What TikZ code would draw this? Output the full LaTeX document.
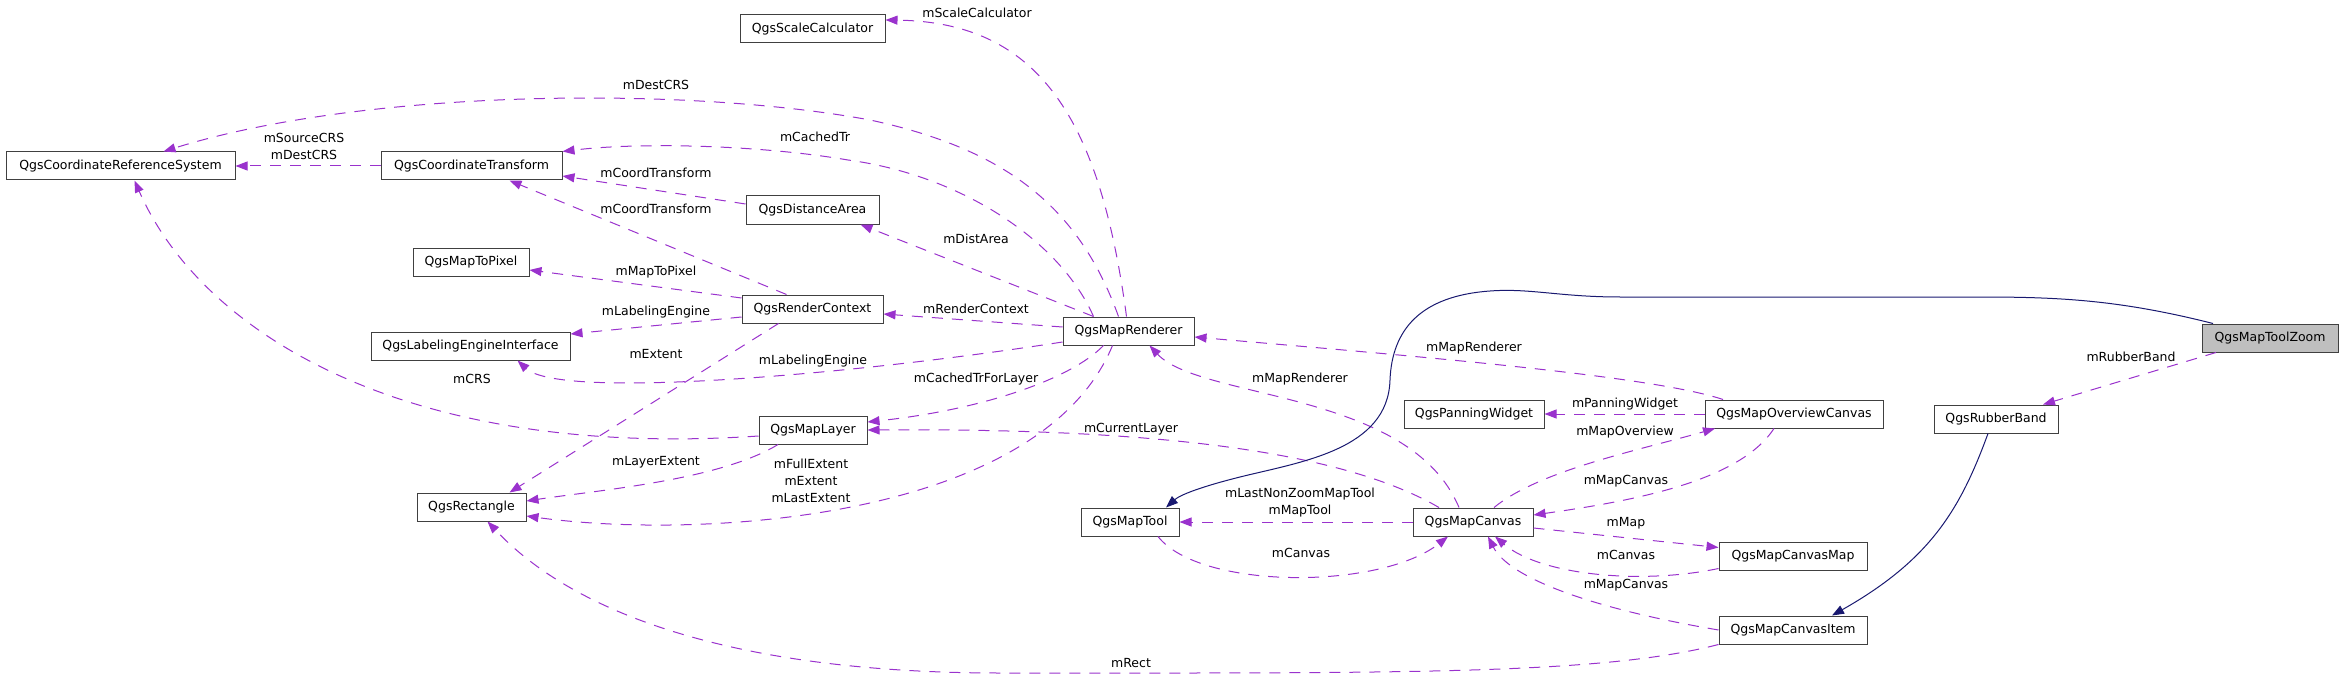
\documentclass[tikz,border=0pt]{standalone}
\usepackage{fontspec}
\setmainfont{DejaVu Sans}
\usepackage{xcolor}
\usepackage{tikz}
\usetikzlibrary{positioning,arrows.meta,calc}
\definecolor{member}{HTML}{9A32CD}
\definecolor{inherit}{HTML}{191970}
\definecolor{frame}{HTML}{404040}

\begin{document}
\begin{tikzpicture}[x=1pt,y=-1pt,font=\fontsize{12.5}{17}\selectfont,
  cls/.style={draw=frame,line width=1pt,fill=white,inner sep=0pt,minimum height=28pt},
  lbl/.style={inner sep=0pt,align=center},
  use/.style={draw=member,line width=1pt,dash pattern=on 11pt off 9pt,-{Triangle[length=12pt,width=9pt]}},
  isa/.style={draw=inherit,line width=1pt,-{Triangle[length=12pt,width=9pt]}}]
  \useasboundingbox (0,0) rectangle (2344,679);
  % classes
  \node[cls,minimum width=229pt] (crs) at (120.5,166) {QgsCoordinateReferenceSystem};
  \node[cls,minimum width=181pt] (ct) at (471.5,166) {QgsCoordinateTransform};
  \node[cls,minimum width=116pt] (m2p) at (471,262) {QgsMapToPixel};
  \node[cls,minimum width=199pt] (lei) at (470.5,346) {QgsLabelingEngineInterface};
  \node[cls,minimum width=109pt] (rect) at (471.5,507) {QgsRectangle};
  \node[cls,minimum width=145pt] (sc) at (812.5,29) {QgsScaleCalculator};
  \node[cls,minimum width=133pt] (da) at (812.5,210) {QgsDistanceArea};
  \node[cls,minimum width=141pt] (rc) at (812.5,309) {QgsRenderContext};
  \node[cls,minimum width=108pt] (ml) at (813,430) {QgsMapLayer};
  \node[cls,minimum width=131pt] (mr) at (1128.5,331) {QgsMapRenderer};
  \node[cls,minimum width=98pt] (mt) at (1130,522) {QgsMapTool};
  \node[cls,minimum width=140pt] (pw) at (1474,414) {QgsPanningWidget};
  \node[cls,minimum width=120pt] (mc) at (1473,522) {QgsMapCanvas};
  \node[cls,minimum width=178pt] (moc) at (1794,414) {QgsMapOverviewCanvas};
  \node[cls,minimum width=148pt] (mcm) at (1793,556.5) {QgsMapCanvasMap};
  \node[cls,minimum width=148pt] (mci) at (1793,630) {QgsMapCanvasItem};
  \node[cls,minimum width=124pt] (rb) at (1996,419) {QgsRubberBand};
  \node[cls,minimum width=136pt,fill=black!25] (mtz) at (2270,338) {QgsMapToolZoom};
  % members
  \begin{scope}[use]
    \draw (ct.west) -- (crs.east);
    \draw ($(mr.north)+(-2,0)$) .. controls (1100,120) and (1040,22) .. ($(sc.east)+(0,-9)$);
    \draw ($(mr.north)+(-10,0)$) .. controls (1080,210) and (1010,150) .. (870,120)
      .. controls (680,85) and (360,90) .. ($(crs.north)+(43,0)$);
    \draw ($(mr.north)+(-35,0)$) .. controls (1060,240) and (960,175) .. (848,160)
      .. controls (760,145) and (640,142) .. (ct.north east);
    \draw ($(da.west)+(0,-6)$) -- ($(ct.east)+(0,10)$);
    \draw ($(rc.north)+(-26,0)$) -- ($(ct.south)+(38,0)$);
    \draw ($(mr.north)+(-35,0)$) -- ($(da.south)+(48,0)$);
    \draw ($(rc.west)+(0,-11)$) -- ($(m2p.east)+(0,8)$);
    \draw ($(rc.west)+(0,8)$) -- ($(lei.east)+(0,-12)$);
    \draw ($(mr.west)+(0,-4)$) -- ($(rc.east)+(0,5)$);
    \draw ($(mr.west)+(0,11)$) .. controls (850,375) and (560,400) .. ($(lei.south)+(47,0)$);
    \draw ($(ml.west)+(0,6)$) .. controls (400,460) and (200,330) .. ($(crs.south)+(14,0)$);
    \draw ($(rc.south)+(-34,0)$) -- ($(rect.north)+(38,0)$);
    \draw ($(ml.south)+(-35,0)$) .. controls (720,480) and (600,490) .. ($(rect.east)+(0,-6)$);
    \draw ($(mr.south)+(-16,0)$) .. controls (1040,520) and (700,540) .. ($(rect.east)+(0,9)$);
    \draw ($(mr.south)+(-25,0)$) .. controls (1070,380) and (980,410) .. ($(ml.east)+(0,-8)$);
    \draw ($(mc.north)+(-34,0)$) .. controls (1340,450) and (1150,428) .. (ml.east);
    \draw ($(mc.north)+(-14,0)$) .. controls (1410,390) and (1200,400) .. ($(mr.south)+(21,0)$);
    \draw ($(moc.north)+(-71,0)$) .. controls (1650,375) and (1400,355) .. ($(mr.east)+(0,6)$);
    \draw (moc.west) -- (pw.east);
    \draw ($(mc.north)+(21,0)$) .. controls (1540,470) and (1640,450) .. ($(moc.south)+(-79,0)$);
    \draw ($(moc.south)+(-20,0)$) .. controls (1740,480) and (1640,500) .. ($(mc.east)+(0,-7)$);
    \draw (mc.west) -- (mt.east);
    \draw ($(mt.south)+(28,0)$) .. controls (1200,590) and (1380,590) .. ($(mc.south)+(-25,0)$);
    \draw ($(mc.east)+(0,6)$) -- ($(mcm.west)+(0,-9)$);
    \draw ($(mcm.west)+(0,12)$) .. controls (1640,585) and (1540,575) .. ($(mc.south)+(22,0)$);
    \draw (mci.west) .. controls (1600,610) and (1510,580) .. ($(mc.south)+(15,0)$);
    \draw (mci.south west) .. controls (1600,675) and (1400,673) .. (1000,673)
      .. controls (750,673) and (580,620) .. ($(rect.south)+(16,0)$);
    \draw ($(mtz.south)+(-54,0)$) -- ($(rb.north)+(47,0)$);
  \end{scope}
  % inheritance
  \begin{scope}[isa]
    \draw ($(mtz.north)+(-57,0)$) .. controls (2120,300) and (2060,297) .. (1980,297) -- (1620,297)
      .. controls (1560,297) and (1530,288) .. (1490,291) .. controls (1420,296) and (1392,330) .. (1390,380)
      .. controls (1388,450) and (1300,462) .. (1240,477) .. controls (1200,487) and (1180,495) .. ($(mt.north)+(36,0)$);
    \draw ($(rb.south)+(-8,0)$) .. controls (1960,510) and (1930,560) .. ($(mci.north)+(39,0)$);
  \end{scope}
  % labels
  \node[lbl] (lsc) at (977,13) {mScaleCalculator};
  \node[lbl] (ldest) at (656,85) {mDestCRS};
  \node[lbl] (lsrc) at (304,146) {mSourceCRS\\mDestCRS};
  \node[lbl] (lcached) at (815,137) {mCachedTr};
  \node[lbl] (lcoord1) at (656,173) {mCoordTransform};
  \node[lbl] (lcoord2) at (656,209) {mCoordTransform};
  \node[lbl] (ldist) at (976,239) {mDistArea};
  \node[lbl] (lm2p) at (656,272) {mMapToPixel};
  \node[lbl] (llab1) at (656,312) {mLabelingEngine};
  \node[lbl] (lrc) at (976,309) {mRenderContext};
  \node[lbl] (lext) at (656,354) {mExtent};
  \node[lbl] (llab2) at (813,361) {mLabelingEngine};
  \node[lbl] (lcrs) at (472,379) {mCRS};
  \node[lbl] (ltrl) at (976,379) {mCachedTrForLayer};
  \node[lbl] (lmr1) at (1300,379) {mMapRenderer};
  \node[lbl] (lmr2) at (1474,348) {mMapRenderer};
  \node[lbl] (lpw) at (1625,404) {mPanningWidget};
  \node[lbl] (lov) at (1625,432) {mMapOverview};
  \node[lbl] (lcur) at (1131,429) {mCurrentLayer};
  \node[lbl] (llay) at (656,462) {mLayerExtent};
  \node[lbl] (lfull) at (811,481) {mFullExtent\\mExtent\\mLastExtent};
  \node[lbl] (lmc1) at (1626,481) {mMapCanvas};
  \node[lbl] (ltool) at (1300,503) {mLastNonZoomMapTool\\mMapTool};
  \node[lbl] (lmap) at (1626,523) {mMap};
  \node[lbl] (lcan1) at (1301,553) {mCanvas};
  \node[lbl] (lcan2) at (1626,555) {mCanvas};
  \node[lbl] (lmc2) at (1626,585) {mMapCanvas};
  \node[lbl] (lrect) at (1131,663) {mRect};
  \node[lbl] (lrb) at (2131,357) {mRubberBand};
\end{tikzpicture}
\end{document}
